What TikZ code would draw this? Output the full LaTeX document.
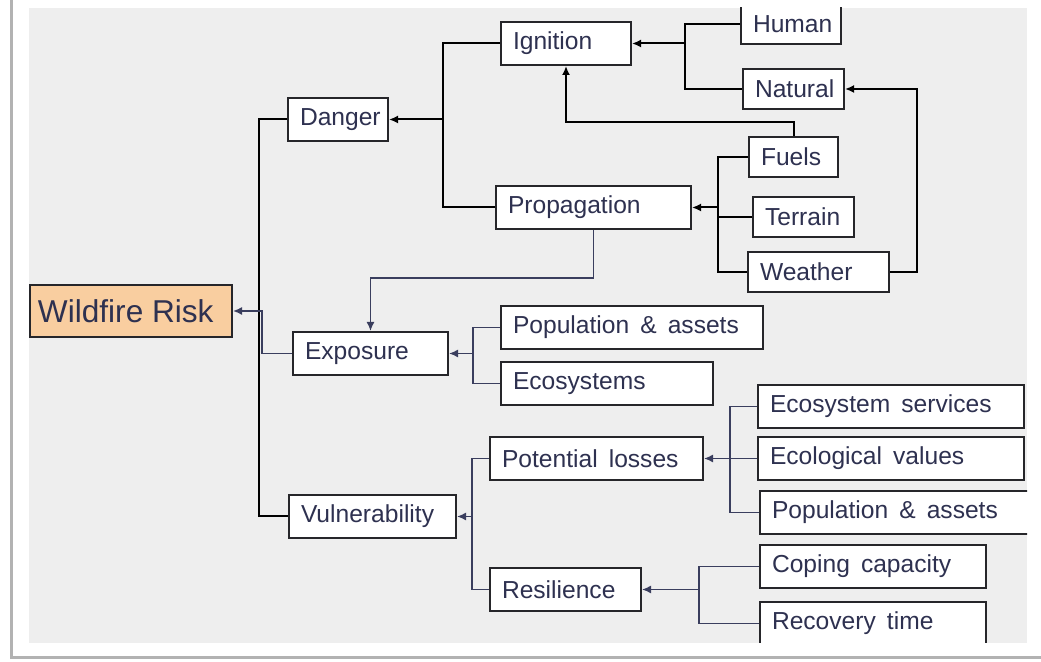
\documentclass[tikz,border=0pt]{standalone}
\usepackage{fontspec}
\setmainfont{Liberation Sans}
\usetikzlibrary{arrows.meta}
\definecolor{inknavy}{RGB}{46,49,80}
\definecolor{linknavy}{RGB}{58,62,94}
\definecolor{boxline}{RGB}{38,38,42}
\definecolor{panelgray}{RGB}{238,238,238}
\definecolor{peach}{RGB}{249,206,160}
\tikzset{
  box/.style={draw=boxline, fill=white, line width=1pt, anchor=north west,
    inner xsep=6pt, inner ysep=0pt, align=left, minimum height=21.5pt, text=inknavy,
    font=\fontsize{12.3}{14}\selectfont,
    execute at begin node={\spaceskip=0.45em\relax}},
  low/.style={minimum height=20pt},
  conn/.style={draw=black, line width=1pt},
  link/.style={draw=linknavy, line width=0.8pt},
  arr/.style={-{Latex[length=4.5pt,width=4pt]}}
}
\begin{document}
\begin{tikzpicture}[x=0.5pt,y=-0.5pt]
  \useasboundingbox (0,0) rectangle (1041,662);
  \fill[white] (0,0) rectangle (1041,662);
  \draw[gray!60, line width=1.5pt] (11,0) -- (11,658) -- (1041,658);
  \fill[panelgray] (29,8) rectangle (1027,643);
  \begin{scope}
  \clip (29,8) rectangle (1027,643);
  % root and first level
  \node[box, fill=peach, text width=93pt, minimum height=26pt, inner xsep=4pt,
    font=\fontsize{15.8}{19}\selectfont, execute at begin node={\spaceskip=0pt\relax}] (wildfire) at (29,284) {Wildfire Risk};
  \node[box, text width=38pt] (danger) at (287,97) {Danger};
  \node[box, text width=65.5pt] (exposure) at (292,331) {Exposure};
  \node[box, text width=71.5pt] (vulner) at (288,494) {Vulnerability};
  % danger branch
  \node[box, text width=53pt] (ignition) at (500,21) {Ignition};
  \node[box, text width=85.5pt] (propagation) at (495,185) {Propagation};
  \node[box, low, text width=38pt] (human) at (740,3) {Human};
  \node[box, low, text width=38.5pt] (natural) at (742,68) {Natural};
  \node[box, low, text width=32.5pt] (fuels) at (748,136) {Fuels};
  \node[box, low, text width=38.5pt] (terrain) at (752,196) {Terrain};
  \node[box, low, text width=58.5pt] (weather) at (747,251) {Weather};
  % exposure branch
  \node[box, text width=119pt] (popexp) at (500,305) {Population \& assets};
  \node[box, text width=94pt] (ecosys) at (500,361) {Ecosystems};
  % vulnerability branch
  \node[box, text width=94.5pt] (losses) at (489,436) {Potential losses};
  \node[box, text width=63.5pt] (resil) at (489,567) {Resilience};
  \node[box, text width=121pt] (ecoserv) at (757,384) {Ecosystem services};
  \node[box, text width=121pt] (ecoval) at (757,436) {Ecological values};
  \node[box, text width=133pt] (popvul) at (759,490) {Population \& assets};
  \node[box, text width=101pt] (coping) at (759,544) {Coping capacity};
  \node[box, text width=101pt] (recovery) at (759,601) {Recovery time};
  % junctions
  \coordinate (jr) at (259,0);
  \coordinate (jw) at (262,0);
  \coordinate (jd) at (443,0);
  \coordinate (ji) at (685,0);
  \coordinate (jf) at (0,122);
  \coordinate (jp) at (718,0);
  \coordinate (jn) at (917,0);
  \coordinate (je) at (0,278);
  \coordinate (jx) at (473,0);
  \coordinate (jv) at (472,0);
  \coordinate (jl) at (730,0);
  \coordinate (js) at (699,0);
  % connectors
  \draw[conn] (danger.west) -| (jr |- vulner.west) -- (vulner.west);
  \draw[link,arr] (exposure.west) -| (jw |- wildfire.east) -- (wildfire.east);
  \draw[conn] (ignition.west) -| (jd |- propagation.west) -- (propagation.west);
  \draw[conn,arr] (jd |- danger.east) -- (danger.east);
  \draw[conn] (human.west) -| (ji |- natural.west) -- (natural.west);
  \draw[conn,arr] (ji |- ignition.east) -- (ignition.east);
  \draw[conn,arr] (fuels.north) |- (jf -| ignition.south) -- (ignition.south);
  \draw[conn] (fuels.west) -| (jp |- weather.west) -- (weather.west);
  \draw[conn] (terrain.west) -- (jp |- terrain.west);
  \draw[conn,arr] (jp |- propagation.east) -- (propagation.east);
  \draw[conn,arr] (weather.east) -| (jn |- natural.east) -- (natural.east);
  \draw[link,arr] (propagation.south) |- (je -| exposure.north) -- (exposure.north);
  \draw[link] (popexp.west) -| (jx |- ecosys.west) -- (ecosys.west);
  \draw[link,arr] (jx |- exposure.east) -- (exposure.east);
  \draw[link] (losses.west) -| (jv |- resil.west) -- (resil.west);
  \draw[link,arr] (jv |- vulner.east) -- (vulner.east);
  \draw[link] (ecoserv.west) -| (jl |- popvul.west) -- (popvul.west);
  \draw[link] (ecoval.west) -- (jl |- ecoval.west);
  \draw[link,arr] (jl |- losses.east) -- (losses.east);
  \draw[link] (coping.west) -| (js |- recovery.west) -- (recovery.west);
  \draw[link,arr] (js |- resil.east) -- (resil.east);
  \end{scope}
\end{tikzpicture}
\end{document}
